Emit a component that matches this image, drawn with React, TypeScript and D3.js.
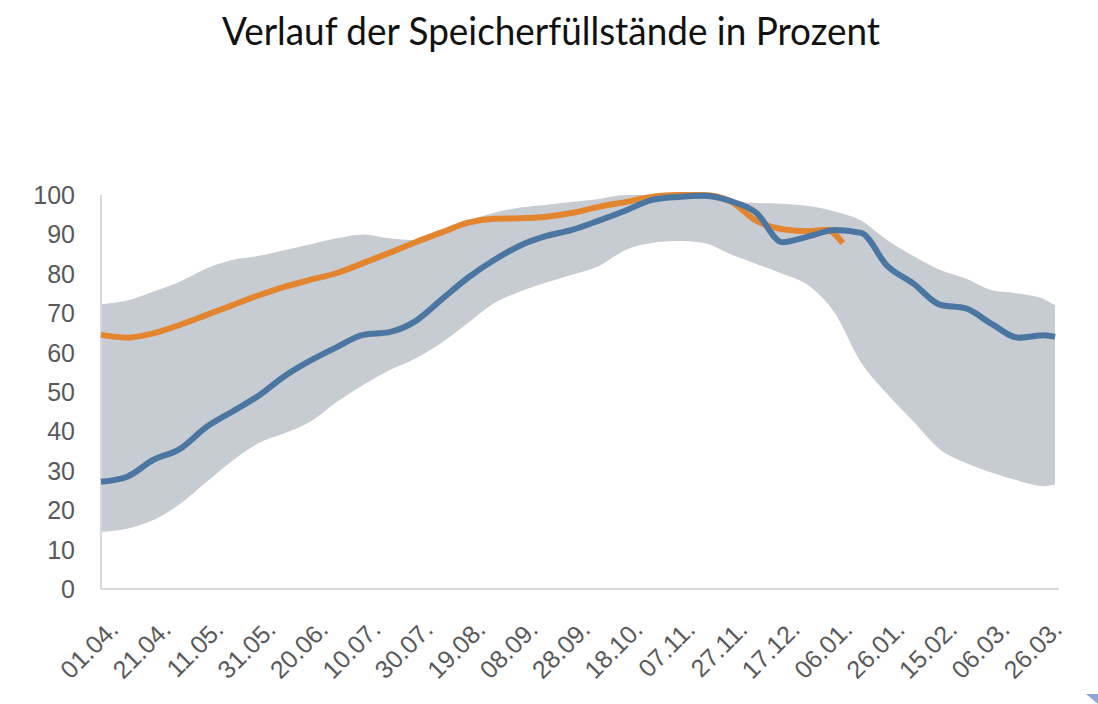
import { area, curveMonotoneX, line, scaleLinear } from "d3";

// day offsets from 01.04. (sample grid used by the band and the full-year line)
const days = [
  0, 10, 20, 30, 40, 50, 60, 70, 80, 90, 100, 110, 120, 130, 140, 150, 160, 170, 180, 190,
  200, 210, 220, 230, 240, 250, 260, 270, 280, 290, 300, 310, 320, 330, 340, 350, 360, 364,
];

const bandMax = [
  72.3, 73.2, 75.5, 78, 81.3, 83.5, 84.5, 86, 87.5, 89, 90, 89, 88.5, 91, 93.5, 95.5, 96.8, 97.5,
  98.3, 99, 100, 100, 100, 99.5, 98.5, 98, 97.8, 97.2, 95.8, 93.5, 88.5, 84.5, 81, 78.8, 75.8, 75,
  73.5, 72,
];

const bandMin = [
  14.5, 15.3, 17.5, 21.5, 27, 32.5, 37, 39.5, 42.5, 47.5, 51.8, 55.5, 58.5, 62.5, 67.5, 72.5, 75.5,
  77.8, 79.8, 82, 86, 87.8, 88.3, 87.8, 85, 82.5, 80, 77, 70, 57.5, 49.5, 42.5, 35.5, 32, 29.5,
  27.5, 26.1, 26.5,
];

const lastYear = [
  27.2, 28.5, 32.8, 35.5, 41, 45, 49, 54, 58, 61.4, 64.5, 65.2, 68, 73.5, 79, 83.5, 87.2, 89.6,
  91.2, 93.5, 96, 98.7, 99.5, 99.8, 98.5, 95.5, 88, 89.5, 91.1, 90.4, 82, 77.5, 72.2, 71.2, 67.2,
  63.8, 64.4, 64,
];

const thisYearDays = [
  0, 10, 20, 30, 40, 50, 60, 70, 80, 90, 100, 110, 120, 130, 140, 150, 160, 170, 180, 190, 200,
  210, 220, 230, 240, 250, 260, 270, 277, 283,
];
const thisYear = [
  64.5, 63.8, 64.9, 67, 69.5, 72, 74.5, 76.7, 78.5, 80.2, 82.7, 85.3, 88, 90.5, 93, 94, 94.1, 94.5,
  95.5, 97, 98.2, 99.5, 100, 100, 98.5, 93.5, 91.3, 90.8, 91.2, 87.8,
];

const dateLabels = [
  "01.04.", "21.04.", "11.05.", "31.05.", "20.06.", "10.07.", "30.07.", "19.08.", "08.09.",
  "28.09.", "18.10.", "07.11.", "27.11.", "17.12.", "06.01.", "26.01.", "15.02.", "06.03.",
  "26.03.",
];
const labelStep = 20;

const yTicks = [0, 10, 20, 30, 40, 50, 60, 70, 80, 90, 100];

const width = 1098;
const height = 704;
const left = 101;
const right = 1055;
const top = 195;
const bottom = 589;

const App = () => {
  const x = scaleLinear().domain([0, 364]).range([left, right]);
  const y = scaleLinear().domain([0, 100]).range([bottom, top]);

  const band = area<number>()
    .x((d, i) => x(days[i]))
    .y0((d, i) => y(bandMin[i]))
    .y1((d) => y(d))
    .curve(curveMonotoneX);

  const fullLine = line<number>()
    .x((d, i) => x(days[i]))
    .y((d) => y(d))
    .curve(curveMonotoneX);

  const partLine = line<number>()
    .x((d, i) => x(thisYearDays[i]))
    .y((d) => y(d))
    .curve(curveMonotoneX);

  const axisColor = "#d9d9d9";
  const textColor = "#595959";
  const font = "'Liberation Sans', Arial, sans-serif";

  return (
    <svg
      width={width}
      height={height}
      viewBox={`0 0 ${width} ${height}`}
      style={{ position: "absolute", left: 0, top: 0, background: "#fff" }}
    >
      <text
        x={551}
        y={45}
        textAnchor="middle"
        fontFamily="Lato, 'Noto Sans', sans-serif"
        fontSize={38}
        textLength={658}
        lengthAdjust="spacingAndGlyphs"
        fill="#111"
      >
        Verlauf der Speicherfüllstände in Prozent
      </text>

      <path d={band(bandMax) ?? ""} fill="#c7ccd2" />

      <line x1={left} x2={left} y1={top} y2={bottom} stroke={axisColor} strokeWidth={2} />
      <line x1={left} x2={1059} y1={bottom} y2={bottom} stroke={axisColor} strokeWidth={2} />

      {/* orange first, blue is drawn over it where they meet */}
      <path
        d={partLine(thisYear) ?? ""}
        fill="none"
        stroke="#e3852f"
        strokeWidth={6}
        strokeLinejoin="round"
      />
      <path
        d={fullLine(lastYear) ?? ""}
        fill="none"
        stroke="#4a76a1"
        strokeWidth={6}
        strokeLinejoin="round"
      />

      {yTicks.map((t) => (
        <text
          key={t}
          x={75}
          y={y(t)}
          dy="0.36em"
          textAnchor="end"
          fontFamily={font}
          fontSize={25}
          fill={textColor}
        >
          {t}
        </text>
      ))}

      {dateLabels.map((label, i) => {
        const lx = x(i * labelStep) + 19;
        const ly = 631;
        return (
          <text
            key={label}
            x={lx}
            y={ly}
            textAnchor="end"
            transform={`rotate(-45 ${lx} ${ly})`}
            fontFamily={font}
            fontSize={25}
            fill={textColor}
          >
            {label}
          </text>
        );
      })}

      <path d="M1086,694 L1098,694 L1098,704 Z" fill="#8ea6d6" />
    </svg>
  );
};

export default App;
